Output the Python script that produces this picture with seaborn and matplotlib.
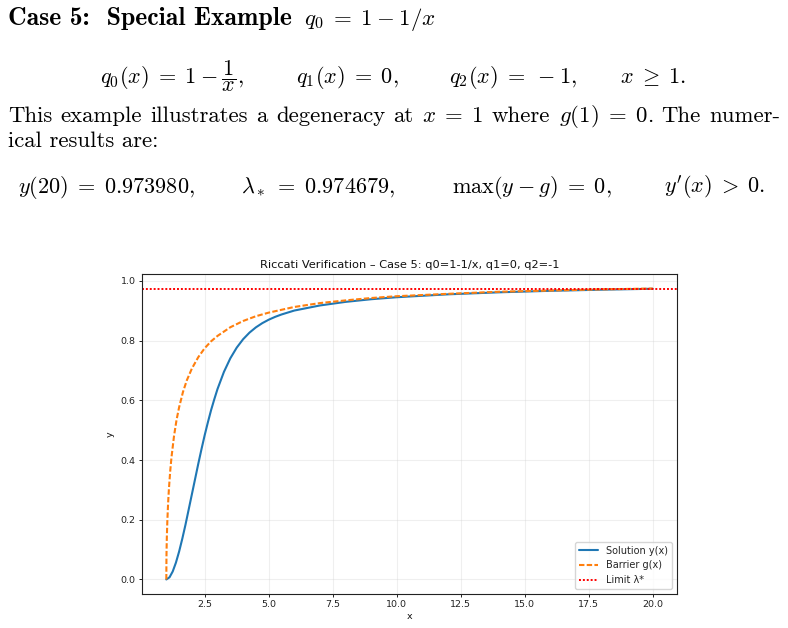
import numpy as np
import pandas as pd
import matplotlib
matplotlib.use("Agg")
import matplotlib.pyplot as plt
from matplotlib.ticker import MultipleLocator
import seaborn as sns

# ---- data ----
x_sol = [1.0, 1.125, 1.25, 1.375, 1.5, 1.625, 1.75, 1.875, 2.0, 2.125, 2.25, 2.375, 2.5,
         2.625, 2.75, 2.875, 3.0, 3.25, 3.5, 3.75, 4.0, 4.25, 4.5, 4.75, 5.0, 5.25, 5.5,
         6.0, 6.5, 7.0, 7.5, 8.0, 9.0, 10.0, 12.0, 14.0, 16.0, 18.0, 20.0]
y_sol = [0.0, 0.0072, 0.0268, 0.0563, 0.0935, 0.1368, 0.184, 0.2349, 0.286, 0.337, 0.3881,
         0.437, 0.4838, 0.527, 0.5677, 0.604, 0.6381, 0.6953, 0.7409, 0.7767, 0.8049,
         0.8271, 0.8447, 0.8588, 0.8703, 0.8798, 0.8878, 0.901, 0.9095, 0.918, 0.924,
         0.930, 0.9389, 0.9456, 0.9553, 0.9621, 0.9671, 0.9709, 0.97398]

x_bar = [1.0, 1.005, 1.01, 1.02, 1.04, 1.07, 1.1, 1.15, 1.2, 1.3, 1.4, 1.5, 1.65, 1.8,
         2.0, 2.25, 2.5, 2.75, 3.0, 3.5, 4.0, 4.5, 5.0, 6.0, 7.0, 8.0, 9.0, 10.0, 12.0,
         14.0, 16.0, 18.0, 20.0]
g_bar = [0.0, 0.0705, 0.0995, 0.140, 0.196, 0.256, 0.3015, 0.361, 0.408, 0.480, 0.535,
         0.577, 0.628, 0.667, 0.707, 0.745, 0.775, 0.798, 0.816, 0.845, 0.866, 0.882,
         0.894, 0.913, 0.926, 0.935, 0.943, 0.949, 0.957, 0.964, 0.968, 0.972, 0.9747]

lam_star = 0.974679
series_labels = ["Solution y(x)", "Barrier g(x)", "Limit λ*"]
chart_title = "Riccati Verification – Case 5: q0=1-1/x, q1=0, q2=-1"

# ---- figure ----
sns.set_style("ticks")
plt.rcParams["mathtext.fontset"] = "cm"
plt.rcParams["axes.unicode_minus"] = True

W, H = 788, 628
fig = plt.figure(figsize=(W / 100, H / 100), dpi=100)
TS = 16


def ftext(px, py, s, size=TS, family="cmr10", ha="left"):
    return fig.text(px / W, 1 - py / H, s, fontsize=size, family=family,
                    ha=ha, va="baseline", color="black")


# heading
head = ftext(8, 25, "Case 5:  Special Example", size=18.5, family="cmb10")
fig.canvas.draw()
renderer = fig.canvas.get_renderer()
head_end = head.get_window_extent(renderer).x1
ftext(max(304, head_end + 5), 25, r"$q_0 \;=\; 1 \:-\: 1/x$", size=16.5)

# display equation
ftext(100, 83, r"$q_0(x) \;=\; 1 \:-\: \dfrac{1}{x},$")
ftext(296, 83, r"$q_1(x) \;=\; 0,$")
ftext(449, 83, r"$q_2(x) \;=\; -1,$")
ftext(620, 83, r"$x \;\geq\; 1.$")

# justified paragraph line
words = ["This", "example", "illustrates", "a", "degeneracy", "at",
         r"$x \;=\; 1$", "where", r"$g(1) \;=\; 0$.", "The", "numer-"]
objs = [ftext(0, 122, w, size=16.4) for w in words]
fig.canvas.draw()
widths = [o.get_window_extent(renderer).width for o in objs]
left, right = 8, 780
gap = (right - left - sum(widths)) / (len(words) - 1)
pos = left
for o, w in zip(objs, widths):
    o.set_x(pos / W)
    pos += w + gap

ftext(8, 147, "ical results are:", size=16.4)

# results line
ftext(18, 193, r"$y(20) \;=\; 0.973980,$")
ftext(241, 193, r"$\lambda_* \;=\; 0.974679,$")
ftext(452, 193, r"$\max(y \:-\: g) \;=\; 0,$")
ftext(664, 193, r"$y'(x) \;>\; 0.$")

# ---- chart ----
ax = fig.add_axes([142 / W, 1 - 594 / H, (677 - 142) / W, (594 - 274) / H])

df_sol = pd.DataFrame({"x": x_sol, "y": y_sol})
df_bar = pd.DataFrame({"x": x_bar, "y": g_bar})

sns.lineplot(data=df_sol, x="x", y="y", ax=ax, color="#1f77b4", linewidth=1.5,
             label=series_labels[0], sort=False)
sns.lineplot(data=df_bar, x="x", y="y", ax=ax, color="#ff7f0e", linewidth=1.5,
             linestyle=(0, (2.6, 1.1)), label=series_labels[1], sort=False)
ax.axhline(lam_star, color="red", linewidth=1.4, linestyle=(0, (1, 1.0)),
           label=series_labels[2])

ax.set_title(chart_title, fontsize=8.2, pad=4, color="#111111")
ax.set_xlabel("x", fontsize=6.8, labelpad=2, color="#111111")
ax.set_ylabel("y", fontsize=6.8, labelpad=4, color="#111111")
ax.xaxis.set_major_locator(MultipleLocator(2.5))
ax.yaxis.set_major_locator(MultipleLocator(0.2))
ax.tick_params(labelsize=6.8, length=2.5, width=0.7, pad=2, colors="#222222")
ax.grid(True, alpha=0.3)
for sp in ax.spines.values():
    sp.set_linewidth(0.8)
    sp.set_color("#222222")
ax.legend(loc="lower right", fontsize=7.0, frameon=True, handlelength=2.0)

fig.savefig("out.png", dpi=100)
